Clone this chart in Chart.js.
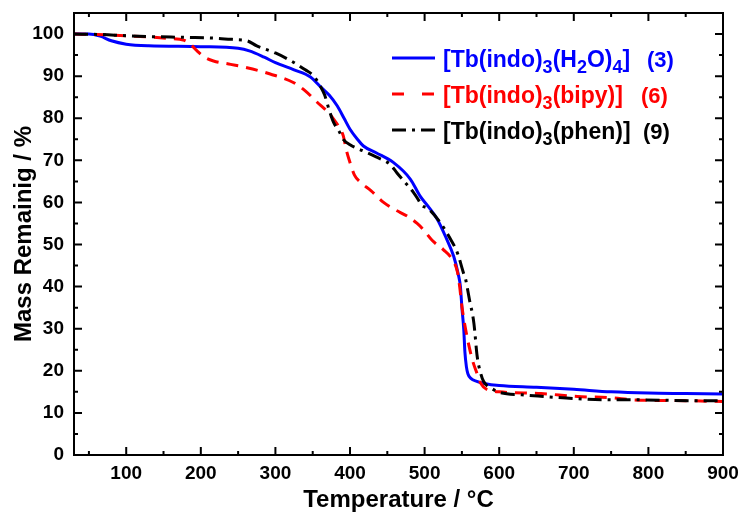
<!DOCTYPE html>
<html>
<head>
<meta charset="utf-8">
<script src="https://cdn.jsdelivr.net/npm/chart.js@4"></script>
<style>
html, body { margin: 0; padding: 0; background: #fff; }
</style>
</head>
<body>
<canvas id="tgaChart" width="741" height="516"></canvas>
<script>
// TGA curves
const tempH2O = [30, 50, 65, 80, 100, 130, 200, 250, 265, 285, 300, 325, 347, 362, 372, 383, 392, 400, 410, 418, 435, 458, 481, 494, 505, 517, 529, 539, 545, 548, 550, 552.5, 554, 556, 558, 562, 570, 580, 600, 650, 700, 750, 800, 850, 900];
const massH2O = [100, 100, 99.5, 98.4, 97.6, 97.2, 97.0, 96.6, 96.0, 94.5, 93.2, 91.5, 89.8, 87.2, 85.5, 82.9, 80, 77.4, 75, 73.4, 71.8, 69.5, 65.5, 61.5, 59, 56, 51.5, 47.2, 43, 40, 35, 29.8, 24.5, 21, 19.3, 18.2, 17.5, 17.0, 16.5, 16.1, 15.6, 15.0, 14.7, 14.6, 14.5];

const tempBipy = [30, 60, 100, 154, 178, 186, 195, 205, 217, 240, 262, 293, 324, 340, 356, 370, 378, 385, 391, 395, 400, 406, 414, 428, 445, 460, 477, 490, 498, 510, 525, 537, 544, 547, 550, 555, 560, 564, 570, 575, 584, 600, 656, 705, 750, 780, 850, 900];
const massBipy = [100, 99.9, 99.6, 99.0, 98.5, 97.6, 96, 94.5, 93.6, 92.8, 92, 90.5, 88.5, 86.5, 83.8, 81.5, 79.8, 78, 75.8, 72.5, 69.5, 66.5, 64.8, 62.8, 60, 58.3, 56.7, 55, 53.6, 51, 48.8, 46.5, 43.5, 40, 35.3, 29.8, 25.5, 22.6, 19.5, 17.1, 15.5, 15.0, 14.6, 13.9, 13.6, 13.1, 12.9, 12.7];

const tempPhen = [30, 65, 100, 132, 180, 221, 245, 262, 275, 300, 324, 340, 351, 360, 366, 372, 378, 385, 391, 400, 418, 435, 454, 463, 475, 485, 492, 495, 505, 521, 535, 544, 552, 555, 560, 566, 570.5, 575, 579, 590, 602, 630, 660, 700, 750, 780, 870, 900];
const massPhen = [100, 99.9, 99.6, 99.4, 99.2, 99.0, 98.7, 98.4, 97.2, 95.5, 93.3, 91.5, 90.1, 87.7, 85.5, 82, 79, 77, 75, 73.7, 72.2, 70.8, 69, 67, 64.5, 62.4, 60.5, 59.5, 58.5, 55.2, 51.2, 48, 43.3, 41.7, 37, 31.4, 23.4, 19.5, 17.5, 15.8, 14.8, 14.3, 13.9, 13.4, 13.1, 13.1, 12.9, 12.9];

const xTicks = [100, 200, 300, 400, 500, 600, 700, 800, 900];
const xMinor = [50, 150, 250, 350, 450, 550, 650, 750, 850];
const yTicks = [0, 10, 20, 30, 40, 50, 60, 70, 80, 90, 100];
const yMinor = [5, 15, 25, 35, 45, 55, 65, 75, 85, 95];

const FONT = "'Liberation Sans', Arial, sans-serif";

function toPoints(xs, ys) {
    return xs.map((t, i) => ({ x: t, y: ys[i] }));
}

// frame with inward ticks on all four sides
const framePlugin = {
    id: 'frame',
    afterDatasetsDraw(chart) {
        const { ctx, chartArea: a, scales: { x, y } } = chart;
        ctx.save();
        ctx.strokeStyle = '#000';
        ctx.lineWidth = 2;
        ctx.setLineDash([]);
        ctx.strokeRect(a.left, a.top, a.right - a.left, a.bottom - a.top);
        ctx.beginPath();
        const hTick = (v, len) => {
            const px = x.getPixelForValue(v);
            ctx.moveTo(px, a.bottom); ctx.lineTo(px, a.bottom - len);
            ctx.moveTo(px, a.top); ctx.lineTo(px, a.top + len);
        };
        const vTick = (v, len) => {
            const py = y.getPixelForValue(v);
            ctx.moveTo(a.left, py); ctx.lineTo(a.left + len, py);
            ctx.moveTo(a.right, py); ctx.lineTo(a.right - len, py);
        };
        xTicks.forEach(v => hTick(v, 8));
        xMinor.forEach(v => hTick(v, 4));
        yTicks.forEach(v => vTick(v, 8));
        yMinor.forEach(v => vTick(v, 4));
        ctx.stroke();
        ctx.restore();
    }
};

// legend with subscripts
function richText(ctx, parts, x, y, color) {
    ctx.fillStyle = color;
    ctx.textBaseline = 'alphabetic';
    ctx.textAlign = 'left';
    parts.forEach(p => {
        ctx.font = p.sub ? 'bold 18px ' + FONT : 'bold 23px ' + FONT;
        ctx.fillText(p.t, x, y + (p.sub ? 6 : 0));
        x += ctx.measureText(p.t).width;
    });
}

const legendRows = [
    { color: '#0000ff', dash: [], parts: [{ t: '[Tb(indo)' }, { t: '3', sub: true }, { t: '(H' }, { t: '2', sub: true }, { t: 'O)' }, { t: '4', sub: true }, { t: ']' }], num: '(3)', numX: 647, y: 67 },
    { color: '#ff0000', dash: [12, 18], parts: [{ t: '[Tb(indo)' }, { t: '3', sub: true }, { t: '(bipy)]' }], num: '(6)', numX: 641, y: 103 },
    { color: '#000000', dash: [14, 6, 3, 6], parts: [{ t: '[Tb(indo)' }, { t: '3', sub: true }, { t: '(phen)]' }], num: '(9)', numX: 643, y: 139 }
];

const legendPlugin = {
    id: 'richLegend',
    afterDraw(chart) {
        const ctx = chart.ctx;
        ctx.save();
        legendRows.forEach(r => {
            ctx.strokeStyle = r.color;
            ctx.lineWidth = 3;
            ctx.setLineDash(r.dash);
            ctx.beginPath();
            ctx.moveTo(392, r.y - 9);
            ctx.lineTo(435, r.y - 9);
            ctx.stroke();
            ctx.setLineDash([]);
            richText(ctx, r.parts, 443, r.y, r.color);
            ctx.font = 'bold 22px ' + FONT;
            ctx.fillText(r.num, r.numX, r.y);
        });
        ctx.restore();
    }
};

const lineStyle = {
    fill: false,
    pointRadius: 0,
    borderWidth: 3,
    cubicInterpolationMode: 'monotone'
};

new Chart(document.getElementById('tgaChart'), {
    type: 'line',
    data: {
        datasets: [
            { ...lineStyle, label: '[Tb(indo)3(phen)] (9)', data: toPoints(tempPhen, massPhen), borderColor: '#000000', borderDash: [14, 6, 3, 6] },
            { ...lineStyle, label: '[Tb(indo)3(bipy)] (6)', data: toPoints(tempBipy, massBipy), borderColor: '#ff0000', borderDash: [12, 8] },
            { ...lineStyle, label: '[Tb(indo)3(H2O)4] (3)', data: toPoints(tempH2O, massH2O), borderColor: '#0000ff' }
        ]
    },
    options: {
        responsive: false,
        devicePixelRatio: 1,
        animation: false,
        layout: { padding: { left: 0, right: 18, top: 13, bottom: 0 } },
        plugins: { legend: { display: false }, tooltip: { enabled: false } },
        scales: {
            x: {
                type: 'linear',
                min: 30,
                max: 900,
                grid: { display: false, drawTicks: false },
                border: { display: false },
                afterBuildTicks: s => { s.ticks = xTicks.map(v => ({ value: v })); },
                afterFit: s => { s.height = 61; s.paddingLeft = 0; s.paddingRight = 0; },
                ticks: { color: '#000', padding: 7, maxRotation: 0, font: { family: FONT, size: 19, weight: 'bold' } },
                title: { display: true, text: 'Temperature / °C', color: '#000', padding: { top: 0, bottom: 1 }, font: { family: FONT, size: 24, weight: 'bold' } }
            },
            y: {
                min: 0,
                max: 105,
                grid: { display: false, drawTicks: false },
                border: { display: false },
                afterBuildTicks: s => { s.ticks = yTicks.map(v => ({ value: v })); },
                afterFit: s => { s.width = 74; s.paddingTop = 0; s.paddingBottom = 0; },
                ticks: { color: '#000', padding: 10, font: { family: FONT, size: 19, weight: 'bold' } },
                title: { display: true, text: 'Mass Remainig / %', color: '#000', padding: { top: 10, bottom: 0 }, font: { family: FONT, size: 24, weight: 'bold' } }
            }
        }
    },
    plugins: [framePlugin, legendPlugin]
});
</script>
</body>
</html>
